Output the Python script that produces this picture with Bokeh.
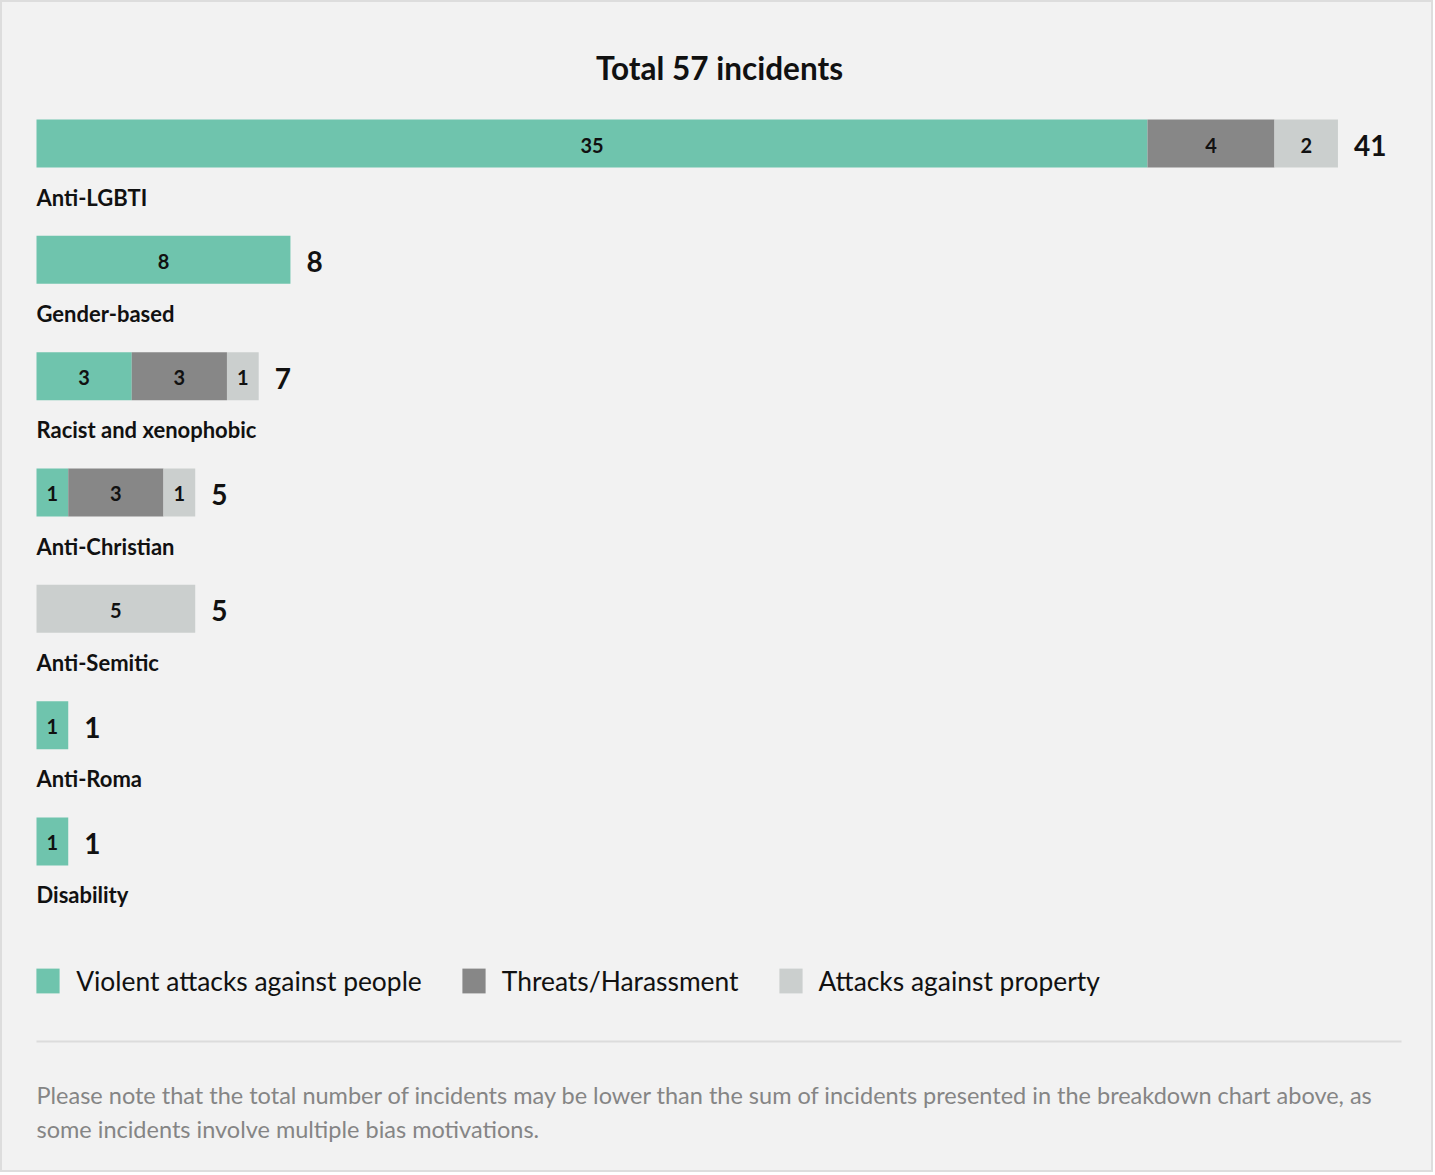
from bokeh.plotting import figure
from bokeh.models import ColumnDataSource, Range1d, Legend, LegendItem, Label
from bokeh.core.properties import value
from bokeh.embed import file_html
from bokeh.resources import INLINE

# ---------------- data ----------------
categories = ["Anti-LGBTI", "Gender-based", "Racist and xenophobic", "Anti-Christian",
              "Anti-Semitic", "Anti-Roma", "Disability"]
violent = [35, 8, 3, 1, 0, 1, 1]
threats = [4, 0, 3, 3, 0, 0, 0]
property_ = [2, 0, 1, 1, 5, 0, 0]
totals = [41, 8, 7, 5, 5, 1, 1]
series_names = ["Violent attacks against people", "Threats/Harassment", "Attacks against property"]
series_colors = ["#6fc4ad", "#878787", "#cbcfce"]
title_text = "Total 57 incidents"
note_lines = [
    "Please note that the total number of incidents may be lower than the sum of incidents presented in the breakdown chart above, as",
    "some incidents involve multiple bias motivations.",
]

# ---------------- layout ----------------
W, H = 1433, 1172
PXU = 1111 / 35.0          # px per incident
ROW = 116.33               # px per row
X0PX, Y0PX = 36, 143       # screen position of x=0 and first row centre
FONT = "Lato"

x_range = Range1d(-X0PX / PXU, (W - X0PX) / PXU)
y_range = Range1d((H - Y0PX) / ROW, -Y0PX / ROW)

p = figure(width=W, height=H, x_range=x_range, y_range=y_range,
           output_backend="svg", toolbar_location=None,
           x_axis_location=None, y_axis_location=None, min_border=0)
p.grid.visible = False
p.background_fill_color = "#f2f2f2"
p.border_fill_color = "#f2f2f2"
p.outline_line_color = "#dddddd"
p.outline_line_width = 3

ys = list(range(len(categories)))
src = ColumnDataSource(dict(y=ys, v=violent, t=threats, pr=property_))
rs = p.hbar_stack(["v", "t", "pr"], y="y", height=48 / ROW, color=series_colors,
                  line_color=None, source=src)

# segment value labels
lx, ly, lt = [], [], []
for i in ys:
    start = 0
    for val in (violent[i], threats[i], property_[i]):
        if val > 0:
            lx.append(start + val / 2)
            ly.append(i)
            lt.append(str(val))
        start += val
p.text(x=lx, y=[v + 1.5 / ROW for v in ly], text=lt, text_align="center", text_baseline="middle",
       text_font=value(FONT), text_font_style="bold", text_font_size="20px",
       text_color="#111111")

# totals
p.text(x=[t + 16 / PXU for t in totals], y=[v + 2 / ROW for v in ys], text=[str(t) for t in totals],
       text_align="left", text_baseline="middle", text_font=value(FONT),
       text_font_style="bold", text_font_size="28px", text_color="#111111")

# category labels
p.text(x=[0] * len(categories), y=[i + 0.46 for i in ys], text=categories,
       text_align="left", text_baseline="middle", text_font=value(FONT),
       text_font_style="bold", text_font_size="22px", text_color="#111111")

# title
p.add_layout(Label(x=(719 - X0PX) / PXU, y=(67 - Y0PX) / ROW, text=title_text,
                   text_align="center", text_baseline="middle", text_font=FONT,
                   text_font_style="bold", text_font_size="31.5px", text_color="#111111"))

# separator line
p.segment(x0=[0], x1=[(1401 - 36) / PXU], y0=[(1041 - Y0PX) / ROW], y1=[(1041 - Y0PX) / ROW],
          line_color="#dcdcdc", line_width=2)

# footnote
for k, line in enumerate(note_lines):
    p.add_layout(Label(x=0, y=(1094 + 34 * k - Y0PX) / ROW, text=line,
                       text_align="left", text_baseline="middle", text_font=FONT,
                       text_font_size="23.5px", text_color="#858585"))

gw, gh = 23 / 0.8, 25 / 0.8
legend = Legend(items=[LegendItem(label=n, renderers=[r]) for n, r in zip(series_names, rs)],
                orientation="horizontal", location=(36 - 23 * 0.125, H - (981 + gh / 2)),
                glyph_width=int(round(gw)), glyph_height=int(round(gh)), label_standoff=14,
                spacing=37, padding=0, margin=0, background_fill_alpha=0, border_line_alpha=0,
                label_text_font=FONT, label_text_font_size="26.4px", label_text_color="#111111",
                label_height=int(round(gh)))
p.add_layout(legend)

open("out.html", "w").write(file_html(p, INLINE))
